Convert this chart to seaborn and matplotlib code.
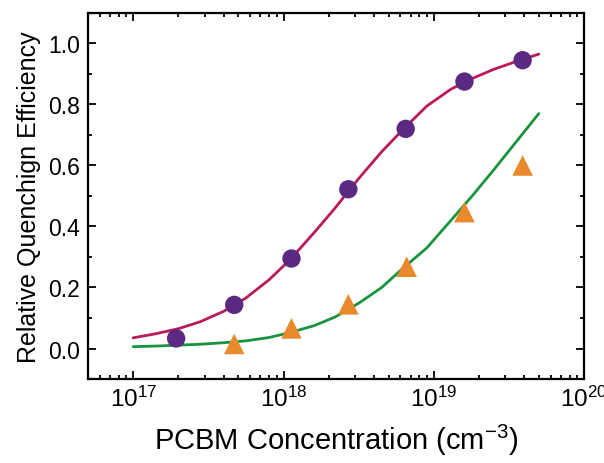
import math
import matplotlib
matplotlib.use("Agg")
import matplotlib.pyplot as plt
import matplotlib.ticker as mticker
import seaborn as sns
import pandas as pd

# ---- data ----
circle_x = [1.93e17, 4.7e17, 1.13e18, 2.7e18, 6.5e18, 1.6e19, 3.9e19]
circle_y = [0.033, 0.143, 0.295, 0.522, 0.720, 0.875, 0.945]

tri_x = [4.7e17, 1.13e18, 2.7e18, 6.6e18, 1.6e19, 3.9e19]
tri_y = [0.015, 0.066, 0.145, 0.268, 0.447, 0.600]

fit_x = [1.0e17, 1.4e17, 2.0e17, 2.8e17, 4.0e17, 5.6e17, 8.0e17, 1.1e18, 1.6e18,
         2.2e18, 3.2e18, 4.5e18, 6.3e18, 9.0e18, 1.3e19, 1.8e19, 2.5e19, 3.5e19, 5.0e19]
fit_red = [0.035, 0.048, 0.065, 0.088, 0.122, 0.165, 0.225, 0.290, 0.380,
           0.460, 0.560, 0.645, 0.720, 0.795, 0.850, 0.885, 0.915, 0.940, 0.965]
fit_green = [0.006, 0.008, 0.011, 0.014, 0.019, 0.025, 0.036, 0.052, 0.075,
             0.103, 0.150, 0.200, 0.265, 0.330, 0.420, 0.500, 0.585, 0.675, 0.770]

xticks = [1e17, 1e18, 1e19, 1e20]
yticks = [0.0, 0.2, 0.4, 0.6, 0.8, 1.0]

sns.set_style("ticks")
plt.rcParams['font.family'] = ['Liberation Sans', 'DejaVu Sans']
plt.rcParams['mathtext.fontset'] = 'custom'
plt.rcParams['mathtext.rm'] = 'Liberation Sans'
plt.rcParams['mathtext.it'] = 'Liberation Sans'
plt.rcParams['text.color'] = 'black'
plt.rcParams['axes.labelcolor'] = 'black'
plt.rcParams['xtick.color'] = 'black'
plt.rcParams['ytick.color'] = 'black'

fig = plt.figure(figsize=(6.04, 4.64), dpi=100)
ax = fig.add_axes([0.1457, 0.181, 0.8213, 0.789])

red_c = "#BA1A5C"
green_c = "#18943F"
purple_c = "#5A2A82"
orange_c = "#E8892B"

df_fit = pd.DataFrame({"x": fit_x, "red": fit_red, "green": fit_green})
sns.lineplot(data=df_fit, x="x", y="red", ax=ax, color=red_c, linewidth=2.0, zorder=2)
sns.lineplot(data=df_fit, x="x", y="green", ax=ax, color=green_c, linewidth=2.0, zorder=2)

df_c = pd.DataFrame({"x": circle_x, "y": circle_y})
df_t = pd.DataFrame({"x": tri_x, "y": tri_y})
sns.scatterplot(data=df_c, x="x", y="y", ax=ax, color=purple_c, marker="o", s=175,
                edgecolor="none", zorder=3)
sns.scatterplot(data=df_t, x="x", y="y", ax=ax, color=orange_c, marker="^", s=220,
                edgecolor="none", zorder=3)

ax.set_xscale("log")
ax.set_xlim(5e16, 1e20)
ax.set_ylim(-0.1, 1.1)
ax.set_xticks(xticks)
ax.xaxis.set_major_formatter(mticker.FuncFormatter(
    lambda v, p: r"$\mathregular{10^{%d}}$" % round(math.log10(v))))
ax.xaxis.set_minor_locator(mticker.LogLocator(base=10, subs=range(2, 10), numticks=20))
ax.xaxis.set_minor_formatter(mticker.NullFormatter())
ax.set_yticks(yticks)
ax.yaxis.set_major_formatter(mticker.FormatStrFormatter("%.1f"))
ax.yaxis.set_minor_locator(mticker.MultipleLocator(0.1))

ax.tick_params(which="both", direction="in", top=True, right=True, width=1.3, colors="black")
ax.tick_params(which="major", length=5.5)
ax.tick_params(axis="y", which="major", pad=6, labelsize=16.5)
ax.tick_params(axis="x", which="major", pad=5, labelsize=17.5)
ax.tick_params(which="minor", length=3)
for s in ax.spines.values():
    s.set_linewidth(1.6)
    s.set_color("black")

ax.set_xlabel(r"PCBM Concentration (cm$\mathregular{^{-3}}$)", fontsize=21, labelpad=8)
ax.set_ylabel("Relative Quenchign Efficiency", fontsize=18, labelpad=5)

fig.savefig("out.png", dpi=100)
